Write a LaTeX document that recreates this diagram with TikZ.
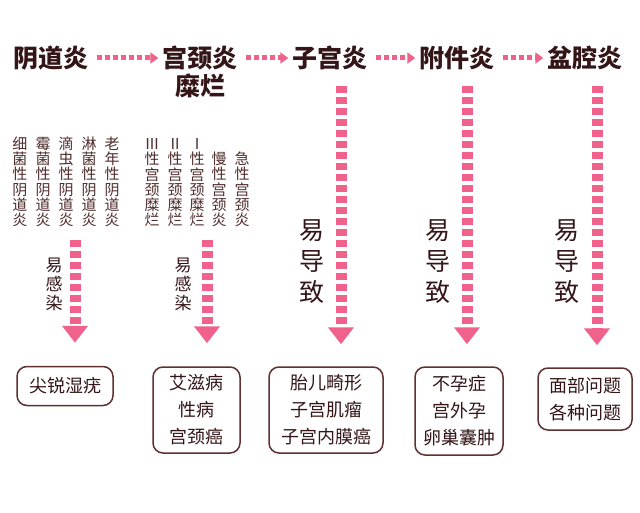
\documentclass[tikz,border=0pt]{standalone}
\usepackage{fontspec}
\setmainfont{Noto Sans CJK SC}
\usetikzlibrary{arrows.meta}
\definecolor{pinkc}{RGB}{240,98,140}
\definecolor{titc}{RGB}{52,22,24}
\definecolor{txtc}{RGB}{80,45,45}
\definecolor{boxc}{RGB}{96,48,48}
\begin{document}
\begin{tikzpicture}[x=1pt,y=-1pt,
  title/.style={font=\fontsize{25}{28}\selectfont\bfseries, text=titc, inner sep=0pt},
  vcol/.style={font=\fontsize{15}{15.2}\selectfont, text=txtc, align=center, inner sep=0pt, anchor=south},
  vsmall/.style={font=\fontsize{17}{19}\selectfont, text=titc, align=center, inner sep=0pt},
  vbig/.style={font=\fontsize{25}{31}\selectfont, text=titc, align=center, inner sep=0pt},
  hdash/.style={line width=5pt, dash pattern=on 5pt off 3pt, pinkc, -{Triangle[width=11pt,length=8pt]}},
  vdash/.style={line width=11pt, dash pattern=on 7pt off 4pt, pinkc, -{Triangle[width=25pt,length=17pt]}},
  res/.style={draw=boxc, line width=1.5pt, rounded corners=10pt, align=center, text=titc,
    font=\fontsize{18}{27}\selectfont, inner sep=0pt}
]
\useasboundingbox[fill=white] (0,0) rectangle (640,513);

% titles
\node[title] (t1) at (51,58) {阴道炎};
\node[title] (t2) at (200,58) {宫颈炎};
\node[title] (t2b) at (200,86) {糜烂};
\node[title] (t3) at (330,58) {子宫炎};
\node[title] (t4) at (457,58) {附件炎};
\node[title] (t5) at (585,58) {盆腔炎};

\draw[hdash, shorten <=8pt, shorten >=4pt] (t1) -- (t2);
\draw[hdash, shorten <=8pt, shorten >=4pt] (t2) -- (t3);
\draw[hdash, shorten <=8pt, shorten >=4pt] (t3) -- (t4);
\draw[hdash, shorten <=8pt, shorten >=4pt] (t4) -- (t5);

% column group 1
\node[vcol] (c1) at (20,227) {细\\菌\\性\\阴\\道\\炎};
\node[vcol] (c2) at (43,227) {霉\\菌\\性\\阴\\道\\炎};
\node[vcol] (c3) at (66,227) {滴\\虫\\性\\阴\\道\\炎};
\node[vcol] (c4) at (89,227) {淋\\菌\\性\\阴\\道\\炎};
\node[vcol] (c5) at (112,227) {老\\年\\性\\阴\\道\\炎};

% column group 2
\node[vcol] (d1) at (152,227) {Ⅲ\\性\\宫\\颈\\糜\\烂};
\node[vcol] (d2) at (175,227) {Ⅱ\\性\\宫\\颈\\糜\\烂};
\node[vcol] (d3) at (197,227) {Ⅰ\\性\\宫\\颈\\糜\\烂};
\node[vcol] (d4) at (219,227) {慢\\性\\宫\\颈\\炎};
\node[vcol] (d5) at (242,227) {急\\性\\宫\\颈\\炎};

% result boxes
\node[res, minimum width=96pt, minimum height=39pt] (b1) at (65,386) {尖锐湿疣};
\node[res, minimum width=87pt, minimum height=86pt] (b2) at (196.5,410) {艾滋病\\性病\\宫颈癌};
\node[res, minimum width=114pt, minimum height=86pt] (b3) at (326,410) {胎儿畸形\\子宫肌瘤\\子宫内膜癌};
\node[res, minimum width=88pt, minimum height=88pt] (b4) at (459,411) {不孕症\\宫外孕\\卵巢囊肿};
\node[res, minimum width=94pt, minimum height=62pt] (b5) at (585,399) {面部问题\\各种问题};

% arrow starts
\coordinate (s1) at (75,240);
\coordinate (s2) at (207,240);
\coordinate (s3) at (341,86);
\coordinate (s4) at (467,86);
\coordinate (s5) at (597,86);

\draw[vdash, shorten >=23pt] (s1) -- (s1 |- b1.north);
\draw[vdash, shorten >=23pt] (s2) -- (s2 |- b2.north);
\draw[vdash, shorten >=22pt] (s3) -- (s3 |- b3.north);
\draw[vdash, shorten >=22pt] (s4) -- (s4 |- b4.north);
\draw[vdash, shorten >=22pt] (s5) -- (s5 |- b5.north);

% labels
\node[vsmall] (l1) at (54,284) {易\\感\\染};
\node[vsmall] (l2) at (183,284) {易\\感\\染};
\node[vbig] (l3) at (312,262) {易\\导\\致};
\node[vbig] (l4) at (438,262) {易\\导\\致};
\node[vbig] (l5) at (567,262) {易\\导\\致};
\end{tikzpicture}
\end{document}
